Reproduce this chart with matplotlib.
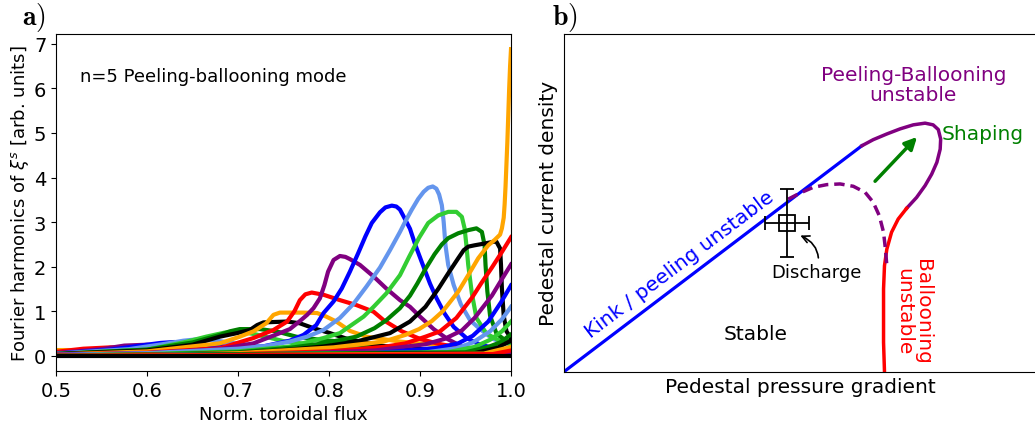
import matplotlib
matplotlib.use("Agg")
import matplotlib.pyplot as plt

# ---- panel a: Fourier harmonics of the n=5 peeling-ballooning mode ----
# (color, x values, y values), left-most peak first
harm_colors = [
    "orange", "red", "purple", "blue", "cornflowerblue", "limegreen", "green", "black",
    "orange", "red", "purple", "blue", "cornflowerblue", "limegreen", "green", "black",
    "orange", "red", "purple", "blue", "cornflowerblue", "limegreen", "green", "black",
    "orange", "red",
]
harm_x = [
    [0.5, 0.52, 0.55, 0.6, 0.7, 0.8, 1.0],
    [0.5, 0.53, 0.56, 0.58, 0.62, 0.7, 0.8, 1.0],
    [0.5, 0.55, 0.575, 0.6, 0.62, 0.66, 0.72, 0.8, 1.0],
    [0.5, 0.56, 0.6, 0.615, 0.63, 0.65, 0.7, 0.75, 0.85, 1.0],
    [0.5, 0.58, 0.62, 0.64, 0.655, 0.67, 0.7, 0.75, 0.8, 0.9, 1.0],
    [0.5, 0.6, 0.64, 0.665, 0.685, 0.70, 0.72, 0.75, 0.8, 0.9, 1.0],
    [0.5, 0.6, 0.65, 0.68, 0.691, 0.702, 0.724, 0.742, 0.764, 0.79, 0.812, 0.85, 0.9, 1.0],
    [0.5, 0.6, 0.65, 0.68, 0.699, 0.713, 0.721, 0.728, 0.754, 0.768, 0.783, 0.801, 0.823,
     0.86, 0.915, 1.0],
    [0.5, 0.6, 0.68, 0.702, 0.717, 0.731, 0.739, 0.746, 0.772, 0.787, 0.797, 0.808, 0.823,
     0.841, 0.878, 0.915, 0.97, 1.0],
    [0.5, 0.6, 0.68, 0.717, 0.739, 0.754, 0.762, 0.768, 0.774, 0.781, 0.794, 0.812, 0.830,
     0.849, 0.86, 0.88, 0.9, 0.92, 0.94, 0.97, 1.0],
    [0.5, 0.6, 0.68, 0.717, 0.746, 0.757, 0.768, 0.776, 0.783, 0.790, 0.795, 0.799, 0.805,
     0.812, 0.818, 0.823, 0.834, 0.849, 0.863, 0.878, 0.889, 0.9, 0.915, 0.93, 0.945, 0.97,
     1.0],
    [0.5, 0.6, 0.68, 0.72, 0.757, 0.772, 0.786, 0.794, 0.805, 0.814, 0.823, 0.832, 0.840,
     0.847, 0.856, 0.862, 0.869, 0.874, 0.878, 0.884, 0.889, 0.895, 0.902, 0.911, 0.918,
     0.927, 0.937, 0.951, 0.966, 0.985, 1.0],
    [0.5, 0.6, 0.7, 0.73, 0.757, 0.776, 0.794, 0.812, 0.827, 0.841, 0.856, 0.867, 0.878,
     0.884, 0.891, 0.898, 0.904, 0.909, 0.914, 0.918, 0.921, 0.924, 0.926, 0.928, 0.931,
     0.937, 0.945, 0.955, 0.966, 0.98, 1.0],
    [0.5, 0.6, 0.7, 0.757, 0.794, 0.812, 0.838, 0.849, 0.863, 0.878, 0.888, 0.899, 0.909,
     0.920, 0.931, 0.940, 0.946, 0.949, 0.951, 0.953, 0.957, 0.962, 0.973, 0.988, 1.0],
    [0.5, 0.6, 0.7, 0.757, 0.794, 0.83, 0.85, 0.863, 0.878, 0.889, 0.897, 0.906, 0.916,
     0.924, 0.931, 0.942, 0.953, 0.962, 0.968, 0.971, 0.972, 0.974, 0.977, 0.984, 0.993,
     1.0],
    [0.5, 0.6, 0.7, 0.757, 0.794, 0.83, 0.867, 0.889, 0.906, 0.913, 0.920, 0.931, 0.942,
     0.948, 0.953, 0.960, 0.971, 0.981, 0.984, 0.988, 0.989, 0.990, 0.992, 0.995, 1.0],
    [0.5, 0.6, 0.7, 0.805, 0.86, 0.884, 0.899, 0.913, 0.925, 0.942, 0.953, 0.964, 0.975,
     0.982, 0.988, 0.990, 0.992, 0.993, 0.994, 0.995, 0.996, 0.997, 0.998, 0.999, 1.0],
    [0.5, 0.7, 0.8, 0.86, 0.884, 0.906, 0.922, 0.94, 0.957, 0.968, 0.979, 0.99, 1.0],
    [0.5, 0.75, 0.85, 0.906, 0.927, 0.946, 0.96, 0.979, 0.99, 1.0],
    [0.5, 0.85, 0.92, 0.942, 0.958, 0.975, 0.989, 1.0],
    [0.5, 0.9, 0.94, 0.958, 0.977, 0.99, 1.0],
    [0.5, 0.93, 0.96, 0.977, 0.99, 1.0],
    [0.5, 0.95, 0.975, 0.988, 1.0],
    [0.5, 0.96, 0.985, 1.0],
    [0.5, 0.97, 1.0],
    [0.5, 0.98, 1.0],
]
harm_y = [
    [0.13, 0.13, 0.12, 0.09, 0.05, 0.03, 0.02],
    [0.09, 0.16, 0.19, 0.18, 0.13, 0.08, 0.04, 0.02],
    [0.06, 0.15, 0.23, 0.25, 0.23, 0.16, 0.1, 0.05, 0.02],
    [0.05, 0.14, 0.25, 0.29, 0.31, 0.28, 0.18, 0.11, 0.05, 0.02],
    [0.05, 0.15, 0.27, 0.34, 0.37, 0.36, 0.27, 0.16, 0.1, 0.05, 0.03],
    [0.04, 0.14, 0.3, 0.43, 0.52, 0.55, 0.48, 0.33, 0.2, 0.1, 0.05],
    [0.04, 0.14, 0.3, 0.47, 0.55, 0.6, 0.6, 0.55, 0.43, 0.36, 0.32, 0.2, 0.12, 0.06],
    [0.04, 0.12, 0.25, 0.43, 0.51, 0.58, 0.69, 0.75, 0.77, 0.73, 0.62, 0.51, 0.36,
     0.22, 0.13, 0.08],
    [0.03, 0.1, 0.28, 0.43, 0.55, 0.73, 0.92, 0.97, 0.97, 0.96, 0.88, 0.77, 0.56,
     0.43, 0.32, 0.25, 0.13, 0.1],
    [0.03, 0.07, 0.17, 0.4, 0.58, 0.77, 1.0, 1.25, 1.38, 1.42, 1.37, 1.25, 1.14,
     0.99, 0.8, 0.55, 0.38, 0.27, 0.2, 0.13, 0.1],
    [0.02, 0.06, 0.15, 0.28, 0.51, 0.6, 0.78, 0.92, 1.07, 1.29, 1.59, 1.89, 2.15,
     2.24, 2.22, 2.17, 2.04, 1.78, 1.51, 1.25, 1.10, 0.88, 0.6, 0.38, 0.22, 0.1, 0.05],
    [0.02, 0.05, 0.1, 0.18, 0.34, 0.47, 0.69, 0.96, 1.22, 1.51, 1.89, 2.3, 2.68,
     2.98, 3.22, 3.33, 3.37, 3.35, 3.28, 3.05, 2.85, 2.48, 2.1, 1.62, 1.3, 0.95, 0.65,
     0.4, 0.25, 0.16, 0.12],
    [0.02, 0.06, 0.16, 0.22, 0.32, 0.43, 0.58, 0.85, 1.17, 1.55, 1.98, 2.37, 2.78,
     3.02, 3.28, 3.52, 3.68, 3.77, 3.80, 3.75, 3.62, 3.38, 3.01, 2.48, 2.04, 1.59, 1.15,
     0.8, 0.6, 0.38, 0.25],
    [0.01, 0.04, 0.1, 0.21, 0.40, 0.51, 0.88, 1.10, 1.40, 1.81, 2.22, 2.65, 2.98,
     3.15, 3.23, 3.23, 3.12, 2.86, 2.48, 2.04, 1.4, 0.85, 0.5, 0.33, 0.26],
    [0.01, 0.03, 0.08, 0.18, 0.28, 0.43, 0.62, 0.8, 1.07, 1.35, 1.62, 1.95, 2.28,
     2.5, 2.64, 2.75, 2.82, 2.86, 2.78, 2.48, 2.04, 1.45, 0.9, 0.5, 0.36, 0.32],
    [0.01, 0.02, 0.06, 0.14, 0.21, 0.32, 0.51, 0.77, 1.1, 1.3, 1.5, 1.85, 2.19,
     2.37, 2.45, 2.48, 2.52, 2.56, 2.56, 2.41, 2.04, 1.51, 0.9, 0.55, 0.4],
    [0.01, 0.02, 0.06, 0.19, 0.32, 0.47, 0.6, 0.78, 1.0, 1.44, 1.81, 2.19, 2.48,
     2.6, 2.72, 2.86, 3.1, 3.4, 3.8, 4.3, 4.8, 5.4, 6.0, 6.5, 6.88],
    [0.01, 0.04, 0.1, 0.2, 0.28, 0.43, 0.55, 0.85, 1.3, 1.65, 1.98, 2.33, 2.66],
    [0.0, 0.04, 0.12, 0.26, 0.38, 0.57, 0.85, 1.35, 1.72, 2.05],
    [0.0, 0.06, 0.18, 0.28, 0.45, 0.77, 1.2, 1.58],
    [0.0, 0.06, 0.17, 0.3, 0.55, 0.82, 1.1],
    [0.0, 0.08, 0.2, 0.36, 0.55, 0.77],
    [0.0, 0.08, 0.2, 0.3, 0.48],
    [0.0, 0.06, 0.18, 0.34],
    [0.0, 0.05, 0.2],
    [0.0, 0.04, 0.12],
]
zero_x = [0.5, 1.0]
zero_y = [0.0, 0.0]

# ---- panel b: sketch of the peeling-ballooning stability diagram ----
kink_x = [0.0, 0.631]
kink_y = [0.0, 0.669]
pb_x = [0.631, 0.655, 0.684, 0.712, 0.740, 0.765, 0.782, 0.793, 0.798, 0.797, 0.790,
        0.779, 0.765, 0.747, 0.726]
pb_y = [0.669, 0.687, 0.704, 0.719, 0.731, 0.736, 0.731, 0.717, 0.689, 0.659, 0.620,
        0.585, 0.551, 0.516, 0.484]
ball_x = [0.726, 0.708, 0.694, 0.684, 0.679, 0.677, 0.677, 0.677, 0.679]
ball_y = [0.484, 0.452, 0.413, 0.363, 0.314, 0.245, 0.166, 0.087, 0.0]
dash_x = [0.475, 0.500, 0.528, 0.557, 0.585, 0.613, 0.638, 0.655, 0.668, 0.677, 0.681, 0.684]
dash_y = [0.511, 0.529, 0.546, 0.554, 0.556, 0.549, 0.531, 0.502, 0.462, 0.413, 0.363, 0.314]
shaping_from = (0.655, 0.558)
shaping_to = (0.752, 0.701)
discharge_x, discharge_y = 0.473, 0.440
discharge_xerr, discharge_yerr = 0.047, 0.10

fig = plt.figure(figsize=(10.35, 4.27), dpi=100)

# panel a
ax1 = fig.add_axes([56 / 1035, 1 - 372 / 427, 455 / 1035, 337 / 427])
for c, xs, ys in zip(harm_colors, harm_x, harm_y):
    ax1.plot(xs, ys, color=c, lw=3, solid_joinstyle="round")
ax1.plot(zero_x, zero_y, color="black", lw=3)
ax1.set_xlim(0.5, 1.0)
ax1.set_ylim(-0.34, 7.22)
ax1.set_yticks(range(8))
ax1.tick_params(labelsize=14)
ax1.set_xlabel("Norm. toroidal flux", fontsize=13)
ax1.set_ylabel(r"Fourier harmonics of $\xi^s$ [arb. units]", fontsize=13, labelpad=2)
ax1.text(0.053, 0.875, "n=5 Peeling-ballooning mode", transform=ax1.transAxes,
         fontsize=13, va="center")

# panel b
ax2 = fig.add_axes([564 / 1035, 1 - 372.7 / 427, 472 / 1035, 337.7 / 427])
ax2.plot(kink_x, kink_y, color="blue", lw=2.3)
ax2.plot(pb_x, pb_y, color="purple", lw=2.5, solid_joinstyle="round")
ax2.plot(ball_x, ball_y, color="red", lw=2.5, solid_joinstyle="round")
ax2.plot(dash_x, dash_y, color="purple", lw=2.5, ls=(0, (3, 1.7)))
ax2.annotate("", xy=shaping_to, xytext=shaping_from,
             arrowprops=dict(arrowstyle="-|>", color="green", lw=2.5, mutation_scale=18))
ax2.errorbar([discharge_x], [discharge_y], xerr=[discharge_xerr], yerr=[discharge_yerr],
             fmt="s", mfc="none", mec="black", ms=12, ecolor="black", elinewidth=1.3,
             capsize=5, capthick=1.3, mew=1.3)
ax2.annotate("Discharge", xy=(0.498, 0.405), xytext=(0.535, 0.294), fontsize=13,
             ha="center", va="center",
             arrowprops=dict(arrowstyle="->", color="black", lw=1.2,
                             connectionstyle="arc3,rad=0.45", shrinkA=2, shrinkB=1))
ax2.text(0.740, 0.850, "Peeling-Ballooning\nunstable", color="purple", fontsize=14.5,
         ha="center", va="center", linespacing=1.1)
ax2.text(0.800, 0.706, "Shaping", color="green", fontsize=14.5, ha="left", va="center")
ax2.text(0.244, 0.319, "Kink / peeling unstable", color="blue", fontsize=14.5,
         ha="center", va="center", rotation=37, rotation_mode="anchor")
ax2.text(0.406, 0.112, "Stable", color="black", fontsize=14.5, ha="center", va="center")
ax2.text(0.739, 0.180, "Ballooning\nunstable", color="red", fontsize=14.5,
         ha="center", va="center", rotation=-90, linespacing=1.0, multialignment="center")
ax2.set_xlim(0, 1)
ax2.set_ylim(0, 1)
ax2.set_xticks([])
ax2.set_yticks([])
ax2.set_xlabel("Pedestal pressure gradient", fontsize=14.5)
ax2.set_ylabel("Pedestal current density", fontsize=14.5)

fig.text(22 / 1035, 1 - 25 / 427, r"$\mathbf{a)}$", fontsize=20, math_fontfamily="cm",
         va="baseline")
fig.text(552 / 1035, 1 - 25 / 427, r"$\mathbf{b)}$", fontsize=20, math_fontfamily="cm",
         va="baseline")

fig.savefig("out.png", dpi=100)
